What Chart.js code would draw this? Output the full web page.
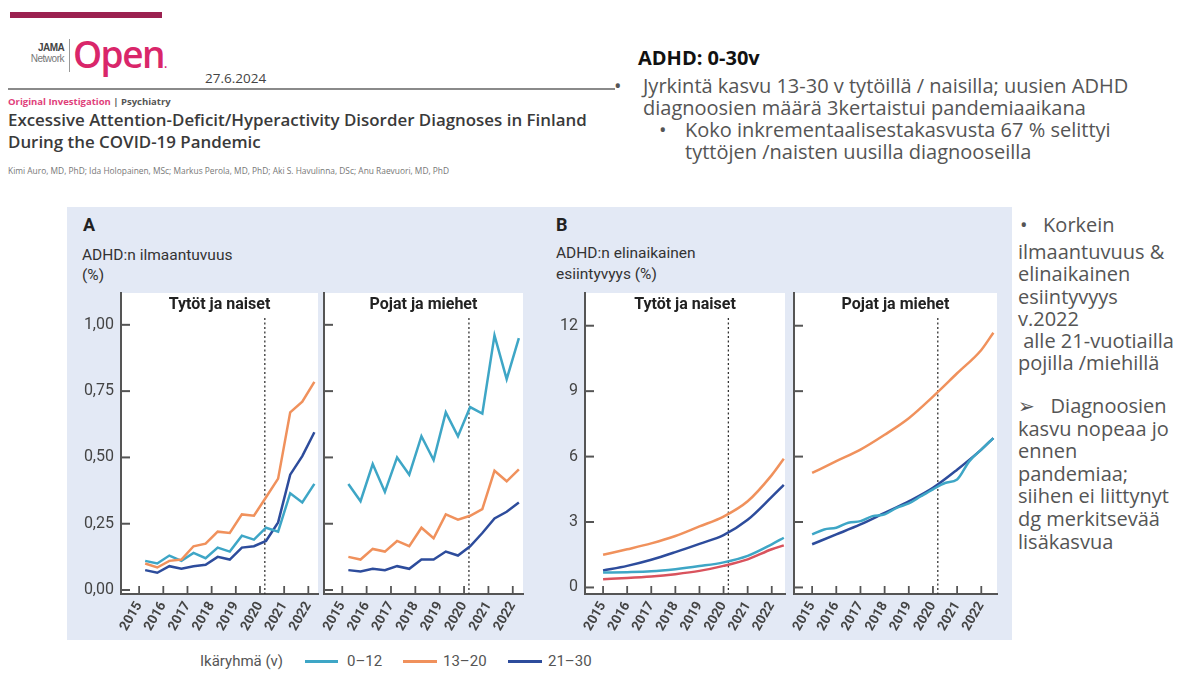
<!DOCTYPE html>
<html>
<head>
<meta charset="utf-8">
<script src="https://cdn.jsdelivr.net/npm/chart.js@4"></script>
<style>
  body { margin: 0; width: 1184px; height: 675px; position: relative; overflow: hidden; background: #fff; font-family: "Open Sans", sans-serif; }
  .abs { position: absolute; white-space: nowrap; }
  .cond { font-family: Roboto, "Liberation Sans", sans-serif; }
  .txt { color: #555; }
  canvas { position: absolute; }
</style>
</head>
<body>
<!-- header, left -->
<div class="abs" style="left:10px;top:12px;width:152px;height:6px;background:#9b2150"></div>
<div class="abs" style="left:4px;width:60px;top:42px;text-align:right;font:bold 10px 'Liberation Sans',sans-serif;color:#444;letter-spacing:-0.6px">JAMA</div>
<div class="abs" style="left:4px;width:60px;top:53px;text-align:right;font:10px 'Liberation Sans',sans-serif;color:#777;letter-spacing:-0.5px">Network</div>
<div class="abs" style="left:69px;top:39px;width:1px;height:33px;background:#999"></div>
<div class="abs" style="left:73px;top:28px;font:600 37px 'Open Sans',sans-serif;color:#d9266a;letter-spacing:-1.5px">Open<span style="font-size:12px">.</span></div>
<div class="abs" style="left:205px;top:69px;font-size:13.5px;line-height:18px;color:#444">27.6.2024</div>
<div class="abs" style="left:8px;top:88px;width:607px;height:1.5px;background:#8a8a8a"></div>
<div class="abs" style="left:8px;top:96px;font:bold 9.5px 'Open Sans',sans-serif;line-height:12px;color:#555"><span style="color:#e0407a">Original Investigation</span> | Psychiatry</div>
<div class="abs" style="left:8px;top:109px;font-size:16.9px;font-weight:600;line-height:22px;color:#3a3a3a">Excessive Attention-Deficit/Hyperactivity Disorder Diagnoses in Finland<br>During the COVID-19 Pandemic</div>
<div class="abs" style="left:8px;top:165px;font-size:8.4px;line-height:11px;color:#777">Kimi Auro, MD, PhD; Ida Holopainen, MSc; Markus Perola, MD, PhD; Aki S. Havulinna, DSc; Anu Raevuori, MD, PhD</div>

<!-- header, right -->
<div class="abs" style="left:638px;top:44px;font-size:20px;font-weight:bold;line-height:28px;color:#111">ADHD: 0-30v</div>
<div class="abs txt" style="left:614px;top:75px;font-size:20px;line-height:21.5px">•</div>
<div class="abs txt" style="left:643px;top:75px;font-size:20px;line-height:21.5px">Jyrkintä kasvu 13-30 v tytöillä / naisilla; uusien ADHD<br>diagnoosien määrä 3kertaistui pandemiaaikana</div>
<div class="abs txt" style="left:659px;top:119px;font-size:20px;line-height:22px">•</div>
<div class="abs txt" style="left:685px;top:119px;font-size:20px;line-height:22px">Koko inkrementaalisestakasvusta 67 % selittyi<br>tyttöjen /naisten uusilla diagnooseilla</div>

<!-- figure background -->
<div class="abs" style="left:67px;top:207px;width:945px;height:433px;background:#e3e9f5"></div>
<div class="abs cond" style="left:83px;top:215px;font-size:18px;font-weight:bold;line-height:20px;color:#222">A</div>
<div class="abs cond" style="left:82px;top:245px;font-size:15.5px;line-height:20px;color:#333">ADHD:n ilmaantuvuus<br>(%)</div>
<div class="abs cond" style="left:556px;top:215px;font-size:18px;font-weight:bold;line-height:20px;color:#222">B</div>
<div class="abs cond" style="left:556px;top:243px;font-size:15.5px;line-height:21px;color:#333">ADHD:n elinaikainen<br>esiintyvyys (%)</div>

<canvas id="a1" width="252" height="355" style="left:70px;top:285px"></canvas>
<canvas id="a2" width="205" height="355" style="left:322px;top:285px"></canvas>
<canvas id="b1" width="249" height="355" style="left:540px;top:285px"></canvas>
<canvas id="b2" width="209" height="355" style="left:792px;top:285px"></canvas>

<!-- legend -->
<div class="abs cond" style="left:200px;top:651px;font-size:15px;line-height:20px;color:#555">Ikäryhmä (v)</div>
<div class="abs" style="left:305px;top:660px;width:33px;height:2.5px;background:#3ea6c6"></div>
<div class="abs cond" style="left:347px;top:651px;font-size:15px;line-height:20px;color:#555">0–12</div>
<div class="abs" style="left:403px;top:660px;width:34px;height:2.5px;background:#f0915c"></div>
<div class="abs cond" style="left:443px;top:651px;font-size:15px;line-height:20px;color:#555">13–20</div>
<div class="abs" style="left:508px;top:660px;width:34px;height:2.5px;background:#2d4c9c"></div>
<div class="abs cond" style="left:548px;top:651px;font-size:15px;line-height:20px;color:#555">21–30</div>

<!-- right column -->
<div class="abs txt" style="left:1020px;top:213px;font-size:20px;line-height:24px">•&nbsp;&nbsp;&nbsp;Korkein</div>
<div class="abs txt" style="left:1018px;top:241px;font-size:20px;line-height:22.3px">ilmaantuvuus &amp;<br>elinaikainen<br>esiintyvyys<br>v.2022<br>&nbsp;alle 21-vuotiailla<br>pojilla /miehillä</div>
<div class="abs txt" style="left:1018px;top:395px;font-size:20px;line-height:22.6px">➢&nbsp;&nbsp;&nbsp;Diagnoosien<br>kasvu nopeaa jo<br>ennen<br>pandemiaa;<br>siihen ei liittynyt<br>dg merkitsevää<br>lisäkasvua</div>

<script>
// x positions
const years = [2015, 2016, 2017, 2018, 2019, 2020, 2021, 2022];
const halfYearsA = [2015.25, 2015.75, 2016.25, 2016.75, 2017.25, 2017.75, 2018.25, 2018.75, 2019.25, 2019.75, 2020.25, 2020.75, 2021.25, 2021.75, 2022.25];
const yearsB = [2015, 2016, 2017, 2018, 2019, 2020, 2021, 2022, 2022.5];
const halfYearsB = [2015, 2015.5, 2016, 2016.5, 2017, 2017.5, 2018, 2018.5, 2019, 2019.5, 2020, 2020.5, 2021, 2021.5, 2022, 2022.5];
const covidStart = 2020.2;

const ticksA = [0, 0.25, 0.5, 0.75, 1];
const ticksB = [0, 3, 6, 9, 12];

// A: incidence (%)
const girlsInc0_12  = [0.11, 0.10, 0.13, 0.11, 0.14, 0.12, 0.16, 0.145, 0.205, 0.19, 0.235, 0.22, 0.365, 0.33, 0.40];
const girlsInc13_20 = [0.10, 0.085, 0.11, 0.115, 0.165, 0.175, 0.22, 0.215, 0.285, 0.28, 0.35, 0.42, 0.67, 0.71, 0.785];
const girlsInc21_30 = [0.075, 0.065, 0.09, 0.08, 0.09, 0.095, 0.125, 0.115, 0.16, 0.165, 0.185, 0.255, 0.435, 0.505, 0.595];
const boysInc0_12   = [0.40, 0.335, 0.475, 0.37, 0.50, 0.435, 0.58, 0.49, 0.67, 0.58, 0.69, 0.665, 0.96, 0.795, 0.95];
const boysInc13_20  = [0.125, 0.115, 0.155, 0.145, 0.185, 0.165, 0.235, 0.195, 0.285, 0.265, 0.28, 0.305, 0.45, 0.41, 0.455];
const boysInc21_30  = [0.075, 0.07, 0.08, 0.075, 0.09, 0.08, 0.115, 0.115, 0.145, 0.13, 0.165, 0.215, 0.27, 0.295, 0.33];

// B: lifetime prevalence (%)
const girlsPrev0_12  = [0.68, 0.70, 0.74, 0.84, 0.98, 1.15, 1.45, 1.98, 2.28];
const girlsPrev13_20 = [1.50, 1.75, 2.02, 2.36, 2.80, 3.25, 3.95, 5.15, 5.90];
const girlsPrev21_30 = [0.78, 0.99, 1.27, 1.62, 2.00, 2.40, 3.10, 4.15, 4.70];
const girlsPrevRed   = [0.38, 0.43, 0.50, 0.61, 0.76, 0.99, 1.29, 1.75, 1.93];
const boysPrev0_12   = [2.43, 2.66, 2.74, 2.97, 3.04, 3.27, 3.35, 3.65, 3.85, 4.18, 4.50, 4.79, 4.95, 5.78, 6.32, 6.85];
const boysPrev13_20  = [5.25, 5.79, 6.32, 7.00, 7.76, 8.75, 9.82, 10.89, 11.68];
const boysPrev21_30  = [1.98, 2.43, 2.89, 3.42, 3.95, 4.57, 5.40, 6.32, 6.85];

const TEAL = '#3ea6c6', ORANGE = '#f0915c', NAVY = '#2d4c9c', RED = '#d9535d';
const COND = 'Roboto, "Liberation Sans", sans-serif';

const pts = (xs, ys) => xs.map((x, i) => ({ x: x, y: ys[i] }));
const line = (xs, ys, color, smooth) => ({
    data: pts(xs, ys),
    borderColor: color,
    borderWidth: 2.5,
    pointRadius: 0,
    tension: smooth ? 0.4 : 0,
    cubicInterpolationMode: smooth ? 'monotone' : 'default'
});

// white plot area, dotted covid line, inward ticks and the panel title
const panelPlugin = {
    id: 'panel',
    beforeDraw(chart) {
        const { ctx, chartArea: a } = chart;
        ctx.save();
        ctx.fillStyle = '#fff';
        ctx.fillRect(a.left, a.top, a.right - a.left, a.bottom - a.top);
        ctx.restore();
    },
    beforeDatasetsDraw(chart) {
        const { ctx, chartArea: a } = chart;
        const x = chart.scales.x.getPixelForValue(covidStart);
        ctx.save();
        ctx.strokeStyle = '#333';
        ctx.lineWidth = 1.3;
        ctx.setLineDash([2, 2.5]);
        ctx.beginPath();
        ctx.moveTo(x, a.top + 25);
        ctx.lineTo(x, a.bottom);
        ctx.stroke();
        ctx.restore();
    },
    afterDraw(chart, args, opts) {
        const { ctx, chartArea: a } = chart;
        const sx = chart.scales.x, sy = chart.scales.y;
        ctx.save();
        ctx.strokeStyle = '#555';
        ctx.lineWidth = 2;
        sy.ticks.forEach(t => {
            const y = sy.getPixelForValue(t.value);
            ctx.beginPath(); ctx.moveTo(a.left, y); ctx.lineTo(a.left + 9, y); ctx.stroke();
        });
        ctx.lineWidth = 1.8;
        sx.ticks.forEach(t => {
            const x = sx.getPixelForValue(t.value);
            ctx.beginPath(); ctx.moveTo(x, a.bottom); ctx.lineTo(x, a.bottom - 8); ctx.stroke();
        });
        ctx.fillStyle = '#222';
        ctx.font = 'bold 16px ' + COND;
        ctx.textAlign = 'center';
        ctx.textBaseline = 'middle';
        ctx.fillText(opts.title, (a.left + a.right) / 2, a.top + 12);
        ctx.restore();
    }
};

function makeChart(id, title, datasets, o) {
    return new Chart(document.getElementById(id), {
        type: 'line',
        data: { datasets: datasets },
        options: {
            responsive: false,
            animation: false,
            layout: { padding: { top: 8, right: 4, left: 0, bottom: 0 } },
            plugins: { legend: { display: false }, tooltip: { enabled: false }, panel: { title: title } },
            scales: {
                x: {
                    type: 'linear', min: 2014.25, max: o.xMax,
                    afterBuildTicks: s => { s.ticks = years.map(v => ({ value: v })); },
                    afterFit: s => { s.height = 46; s.paddingLeft = 0; s.paddingRight = 0; },
                    grid: { display: true, drawOnChartArea: false, drawTicks: false },
                    border: { color: '#555', width: 2 },
                    ticks: {
                        minRotation: 60, maxRotation: 60, padding: 5, color: '#444',
                        font: { family: COND, size: 13.5, weight: 'bold' },
                        callback: v => String(v)
                    }
                },
                y: {
                    min: o.yMin, max: o.yMax,
                    afterBuildTicks: s => { s.ticks = o.yTicks.map(v => ({ value: v })); },
                    afterFit: s => { s.width = o.yWidth; s.paddingTop = 0; s.paddingBottom = 0; },
                    grid: { display: true, drawOnChartArea: false, drawTicks: false },
                    border: { color: '#555', width: 2 },
                    ticks: {
                        display: o.showY, padding: 7, color: '#444',
                        font: { family: COND, size: 16 },
                        callback: o.fmt
                    }
                }
            }
        },
        plugins: [panelPlugin]
    });
}

const fmtA = v => v.toFixed(2).replace('.', ',');
const fmtB = v => String(v);

makeChart('a1', 'Tytöt ja naiset', [
    line(halfYearsA, girlsInc13_20, ORANGE),
    line(halfYearsA, girlsInc0_12, TEAL),
    line(halfYearsA, girlsInc21_30, NAVY)
], { xMax: 2022.4, yMin: -0.015, yMax: 1.12, yTicks: ticksA, yWidth: 51, showY: true, fmt: fmtA });

makeChart('a2', 'Pojat ja miehet', [
    line(halfYearsA, boysInc0_12, TEAL),
    line(halfYearsA, boysInc13_20, ORANGE),
    line(halfYearsA, boysInc21_30, NAVY)
], { xMax: 2022.42, yMin: -0.015, yMax: 1.12, yTicks: ticksA, yWidth: 2, showY: false, fmt: fmtA });

makeChart('b1', 'Tytöt ja naiset', [
    line(yearsB, girlsPrevRed, RED, true),
    line(yearsB, girlsPrev0_12, TEAL, true),
    line(yearsB, girlsPrev21_30, NAVY, true),
    line(yearsB, girlsPrev13_20, ORANGE, true)
], { xMax: 2022.55, yMin: -0.3, yMax: 13.5, yTicks: ticksB, yWidth: 45, showY: true, fmt: fmtB });

makeChart('b2', 'Pojat ja miehet', [
    line(halfYearsB, boysPrev0_12, TEAL, true),
    line(yearsB, boysPrev21_30, NAVY, true),
    line(yearsB, boysPrev13_20, ORANGE, true)
], { xMax: 2022.65, yMin: -0.3, yMax: 13.5, yTicks: ticksB, yWidth: 2, showY: false, fmt: fmtB });
</script>
</body>
</html>
